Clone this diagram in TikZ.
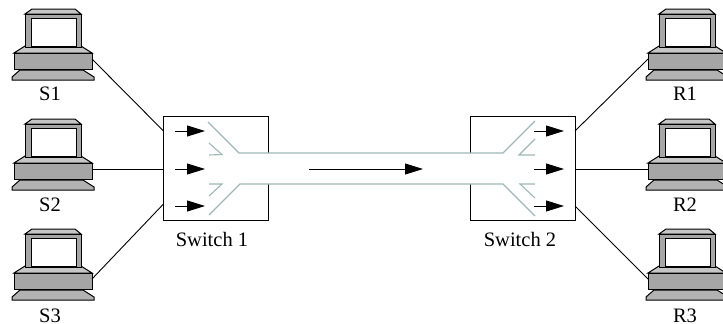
\documentclass[tikz,border=0pt]{standalone}
\usepackage{fontspec}
\setmainfont{Liberation Serif}
\usetikzlibrary{arrows.meta}
\definecolor{pipecol}{HTML}{9DB8B5}
\tikzset{
    hostlabel/.style={font=\fontsize{20.5}{24}\selectfont, inner sep=0pt},
    pipeline/.style={draw=pipecol, line width=1.1pt},
    flow/.style={-{Triangle[length=18pt,width=11pt]}, line width=1pt},
    wire/.style={line width=0.9pt},
    pics/computer/.style={code={
        % foot, base, monitor
        \draw[fill=gray!60, line width=1pt] (20,70) -- (12,77) -- (12,80) -- (94,80) -- (94,77) -- (83,70) -- cycle;
        \draw[fill=gray!45, line width=1pt] (14,53) -- (25,46) -- (81,46) -- (92,53) -- cycle;
        \draw[fill=gray!70, line width=1pt] (14,53) rectangle (92,69);
        \draw[fill=gray!45, line width=1pt] (25,14) -- (32,9) -- (75,9) -- (81,14) -- cycle;
        \draw[fill=gray!70, line width=1pt] (25,14) rectangle (81,47);
        \draw[fill=white, line width=1pt] (31,18) rectangle (76,46);
        \coordinate (-east) at (92,59);
        \coordinate (-west) at (14,59);
    }}
}
\begin{document}
\begin{tikzpicture}[x=1pt,y=-1pt]
    \useasboundingbox (0,0) rectangle (723,324);
    % Senders
    \pic (S1) at (0,0) {computer};
    \pic (S2) at (0,110) {computer};
    \pic (S3) at (0,220) {computer};
    \node[hostlabel] (S1label) at (50,94) {S1};
    \node[hostlabel] (S2label) at (50,205) {S2};
    \node[hostlabel] (S3label) at (50,315.5) {S3};
    % Receivers
    \pic (R1) at (634,0) {computer};
    \pic (R2) at (634,110) {computer};
    \pic (R3) at (634,220) {computer};
    \node[hostlabel] (R1label) at (685,94) {R1};
    \node[hostlabel] (R2label) at (685,205) {R2};
    \node[hostlabel] (R3label) at (685,315.5) {R3};
    % Switches
    \draw[line width=1pt] (268,153) -- (268,116.5) -- (163.5,116.5) -- (163.5,220) -- (268,220) -- (268,184);
    \draw[line width=1pt] (470.5,153) -- (470.5,116.5) -- (575,116.5) -- (575,220) -- (470.5,220) -- (470.5,184);
    \node[hostlabel] (sw1label) at (212,239) {Switch 1};
    \node[hostlabel] (sw2label) at (520,239) {Switch 2};
    \coordinate (sw1a) at (163.5,131);
    \coordinate (sw1b) at (163.5,169);
    \coordinate (sw1c) at (163.5,204);
    \coordinate (sw2a) at (575,131);
    \coordinate (sw2b) at (575,169);
    \coordinate (sw2c) at (575,206);
    % Links
    \draw[wire] (S1-east) -- (sw1a);
    \draw[wire] (S2-east) -- (sw1b);
    \draw[wire] (S3-east) -- (sw1c);
    \draw[wire] (sw2a) -- (R1-west);
    \draw[wire] (sw2b) -- (R2-west);
    \draw[wire] (sw2c) -- (R3-west);
    % Pipe and fabric
    \draw[pipeline] (208,122) -- (239,153) -- (503,153) -- (535,121);
    \draw[pipeline] (209,215) -- (240,184) -- (503,184) -- (535,216);
    \draw[pipeline] (209,143) -- (222,154.5) -- (209,155);
    \draw[pipeline] (209,184) -- (222,184) -- (209,196);
    \draw[pipeline] (535,139) -- (519,155) -- (535,155);
    \draw[pipeline] (535,184) -- (520,184) -- (535,198);
    % Arrows
    \foreach \y in {131,169,206} {
        \draw[flow] (175,\y) -- (205,\y);
        \draw[flow] (534,\y) -- (564,\y);
    }
    \draw[flow] (309,169) -- (423,169);
\end{tikzpicture}
\end{document}
